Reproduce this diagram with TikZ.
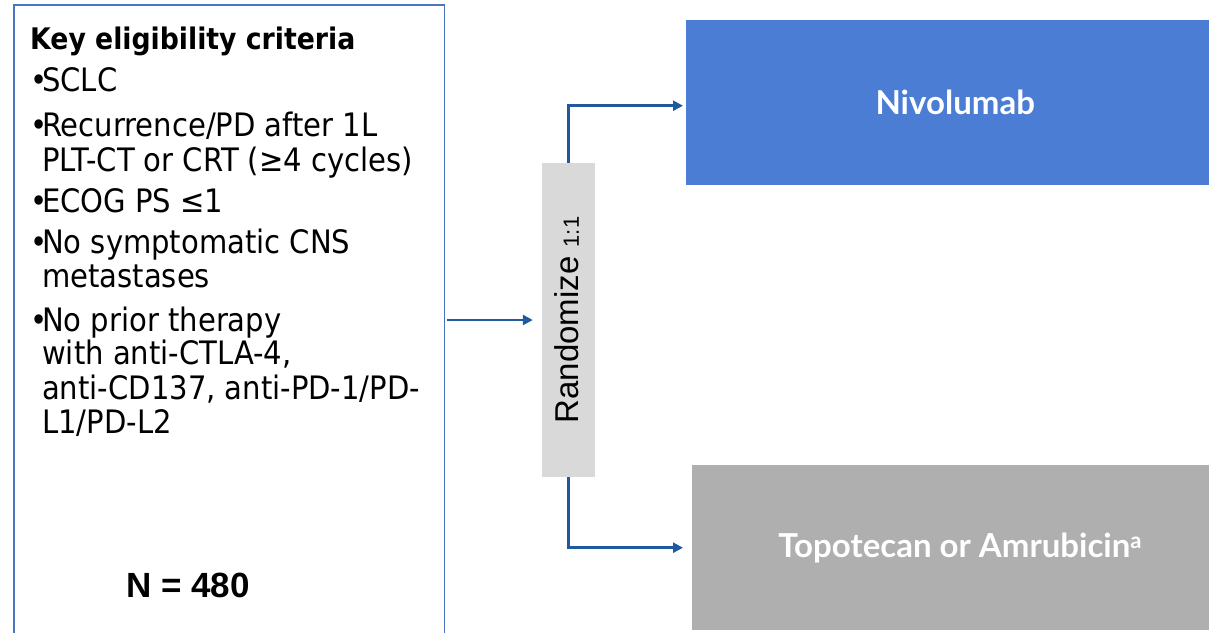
\documentclass[tikz,border=0pt]{standalone}
\usepackage{fontspec}
\setmainfont{DejaVu Sans Condensed}
\newfontfamily\arialf{Liberation Sans}
\newfontfamily\latof{Lato}
\usetikzlibrary{arrows.meta}
\definecolor{bordblue}{HTML}{4A76C0}
\definecolor{arrblue}{HTML}{1F5A9E}
\definecolor{nivoblue}{HTML}{4A7DD3}
\definecolor{topogray}{HTML}{AFAFAF}
\definecolor{randgray}{HTML}{D9D9D9}
\tikzset{
  crittext/.style={anchor=base west, inner sep=0pt, font=\fontsize{32.3}{34}\selectfont, text=black},
  arrowline/.style={draw=arrblue, line width=2.6pt, -{Triangle[length=10pt,width=10pt]}},
  armbox/.style={draw=none, inner sep=0pt, text=white, font=\latof\bfseries\fontsize{33}{36}\selectfont},
}
\begin{document}
\begin{tikzpicture}[x=1pt,y=-1pt]
\useasboundingbox (0,0) rectangle (1209,632);
% criteria box
\node[anchor=north west, minimum width=430pt, minimum height=640pt, inner sep=0pt] (crit) at (14,5) {};
\draw[bordblue, line width=1.6pt] (crit.south west) -- (crit.north west) -- (crit.north east) -- (crit.south east);
\node[crittext, font=\bfseries\fontsize{29.7}{32}\selectfont] (l0) at (30,49) {Key eligibility criteria};
\node[crittext] (b1) at (30,91) {•};
\node[crittext] (l1) at (42,91) {SCLC};
\node[crittext] (b2) at (30,136) {•};
\node[crittext] (l2) at (42,136) {Recurrence/PD after 1L};
\node[crittext] (l3) at (42,171) {PLT-CT or CRT (≥4 cycles)};
\node[crittext] (b3) at (30,212) {•};
\node[crittext] (l4) at (42,212) {ECOG PS ≤1};
\node[crittext] (b4) at (30,253) {•};
\node[crittext] (l5) at (42,253) {No symptomatic CNS};
\node[crittext] (l6) at (42,287) {metastases};
\node[crittext] (b5) at (30,331) {•};
\node[crittext] (l7) at (42,331) {No prior therapy};
\node[crittext] (l8) at (42,364) {with anti-CTLA-4,};
\node[crittext] (l9) at (42,399) {anti-CD137, anti-PD-1/PD-};
\node[crittext] (l10) at (42,433) {L1/PD-L2};
\node[anchor=base, inner sep=0pt, font=\arialf\bfseries\fontsize{35}{40}\selectfont] (nn) at (188,597) {N = 480};
% randomize
\node[fill=randgray, minimum width=53pt, minimum height=314pt, inner sep=0pt] (rand) at (568.5,320) {};
\node[rotate=90, inner sep=0pt, font=\arialf\fontsize{33}{36}\selectfont] (randt) at (567,320) {Randomize {\fontsize{22}{24}\selectfont 1:1}};
% arms
\node[armbox, fill=nivoblue, anchor=north west, minimum width=538pt, minimum height=165pt] (nivo) at (686,20) {Nivolumab};
\node[armbox, fill=topogray, anchor=north west, minimum width=536pt, minimum height=165pt] (topo) at (692,465) {Topotecan or Amrubicin\textsuperscript{\fontsize{22}{24}\selectfont a}};
% connectors
\coordinate (start) at (447,320);
\draw[arrowline, shorten >=9pt] (start) -- (rand.west);
\draw[arrowline, shorten >=3pt] (rand.north) |- ([yshift=-3pt]nivo.west);
\draw[arrowline, shorten >=9pt] (rand.south) |- (topo.west);
\end{tikzpicture}
\end{document}
